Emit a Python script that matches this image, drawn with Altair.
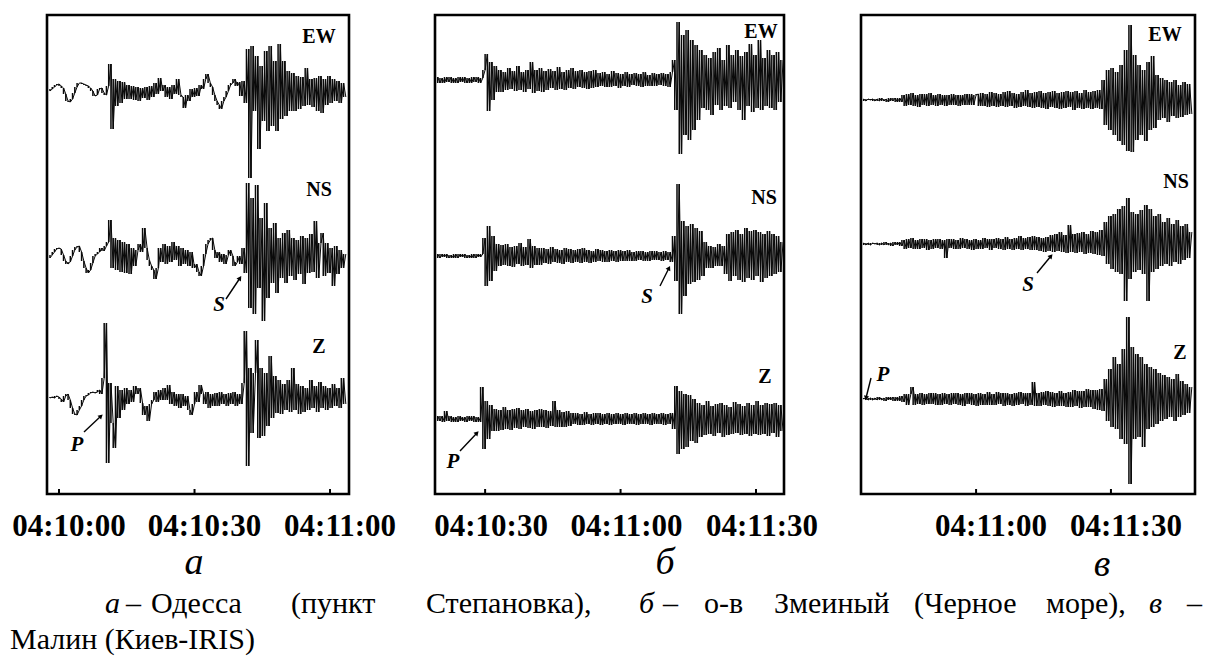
import altair as alt
import pandas as pd

DT = 0.5

# ---------------- panel а : Одесса (seconds after 04:10:00) ----------------
a_ew = [
    (-2.0, [0, 2, 4, 6, 7, 5, 3, -3, -10, -11, -8, -2, 4, 8, 8, 7, 6, 5, 3, 0, -5, -4, 2, 3, -2, -4]),
    (11.0, [5, 27, -38, 12, -15, 10, -12, 9, -8]),
    (15.5, [6, -8, 5, -9, 4, -10, 3, -7, 4, -9, 5, -6, 8, -3, 13, 0, 6, -6, 4, -8, 6, -3, 12, -4, -6,
            -17, -4, -10, 2, -6, 3, -5, 6, 2, 12, 17, 8, 4, -4, -10, -14, -18, -10, -6, 0, 6, 8, 12, 5, 9]),
    (40.5, [-5, 10, -12, 42, -87, 45, -20, 35, -58, 25, -30, 40, -40, 45, -35, 30, -40, 47, -28, 30, -25,
            20, -20, 18, -20, 15, -18, 14, -15, 23, -14, 12, -16, 13, -20, 15, -22, 12, -14, 15, -12, 12,
            -10, 10, -12, 8, -6]),
]
a_ns = [
    (-2.0, [0, 3, 6, 9, 10, 9, 3, -3, -6, -4, 2, 8, 11, 12, 6, -3, -10, -15, -12, -5, 2, 4, 6, 10, 7, 12]),
    (11.0, [16, 38, -10, 20, -12, 18, -14, 16, -15, 14, -16, 10, -8]),
    (17.5, [8, 14, 6, 30, 10, -2, -8, -12, -21, -10]),
    (22.5, [10, -4, 14, -6, 12, -4, 16, -2, 12, -8, 10, -6, 8, -8, 6, -10, -6, -14, -18, -8, 4, 14, 18, 20, 8, 0]),
    (35.5, [6, -4, 4, -6, 3, 8, 2, -8, -4, 2, -6]),
    (41.0, [10, -15, 75, -50, 60, -56, 73, -30, 40, -63, 55, -40, 30, -25, 35, -35, 20, -20, 25, -25,
            28, -18, 20, -22, 18, -16, 22, -26, 20, -15, 24, -14, 37, -20, 15, 25, -18, 15, -15, 10,
            -28, 12, -16, 8, -10, 4]),
]
a_z = [
    (-2.0, [0, 1, 0, 2, 1, -1, -4, 2, 4, -2, -10, -16, -17, -12, -8, -2, 2, 3, 5, 6, 5, 6, 8, 4]),
    (10.0, [20, 75, -65, 15, -25, -50, 12, -20, 8, -12, 10]),
    (15.5, [-6, 8, -4, 12, 4, 10, -5, -17, -8, -23, -6, -2]),
    (21.5, [6, -4, 8, -2, 10, -2, 13, -6, 6, -8, 4, -10, 4, -8, 2, -12, -17, -6, 6, -4, 13, 4]),
    (32.5, [-6, 6, -10, 4, -8, 5, -8, 6, -6, 4, -8, 5, -6, 6, -8, 4]),
    (40.5, [-6, 15, 67, -68, 30, -35, 25, 58, -40, 30, -38, 25, -28, 42, -20, 22, -15, 18]),
    (49.5, [-16, 14, -12, 18, -14, 30, -12, 14, -16, 12, -14, 10, -12, 18, -10, 12, -14, 16, -10, 12,
            -12, 10, -10, 14, -8, 10, -10, 20, -6]),
]

# ---------------- panel б : о-в Змеиный ----------------
b_ew = [
    (19.5, [3, -3, 2, -3, 3, -2, 3, -3, 2, -3, 3, -2, 3, -3, 2, -3, 3, -2, 3, -3, 2]),
    (30.0, [10, 26, -31, 18, -20, 14, -12]),
    (33.5, [10, -12, 8, -10, 12, -9, 9, -11, 14, -10, 8, -12, 10, -9, 18, -13, 10, -11, 12, -12, 9, -10,
            11, -8, 9, -10, 13, -9, 8, -10, 10, -8, 12, -9, 9, -7, 10, -8, 8, -9, 9, -8, 10, -7]),
    (55.5, [7, -6, 8, -7, 6, -7, 9, -6, 7, -8, 6, -6, 8, -7, 6, -5, 7, -6, 6, -7, 8, -6, 5, -6, 7, -6,
            6, -5, 7, -6, 6, -7, 8]),
    (72.0, [20, -30, 58, -74, 45, -55, 50, -60, 40, -50, 35, -40]),
    (78.0, [30, -28, 25, -30, 22, -35, 28, -25, 32, -30, 20, -26, 35, -28, 25, -22, 30, -30, 24, -40,
            28, -26, 36, -32, 25, -28, 40, -30, 22, -26, 30, -28, 25, -30, 28, -22, 20]),
]
b_ns = [
    (19.5, [2, -2, 2, -1, 2, -2, 1, -2, 2, -2, 2, -1, 2, -2, 1, -2, 2, -2, 2, -1, 2]),
    (30.0, [18, -30, 30, -25, 20, -15, 12]),
    (33.5, [-10, 11, -9, 12, -10, 9, -11, 10, -8, 13, -10, 9, -9, 17, -12, 10, -9, 8, -9]),
    (43.0, [8, -7, 7, -8, 9, -6, 7, -7, 6, -8, 8, -6, 7, -7, 6, -6, 7, -7, 8, -6, 6, -7, 5, -6, 7, -5,
            6, -6, 5, -6, 6, -5, 5, -6, 6, -5, 5, -5, 6, -5, 4, -5, 5, -4, 5, -5, 4, -5, 5, -4, 5, -4,
            4, -5, 5, -4, 4]),
    (71.5, [-6, 20, -25, 72, -58, 35, -40, 30, -28, 32, -26, 28, -24, 25, -20]),
    (79.0, [14, -12, 10, -12, 9, -10, 12, -10, 10]),
    (83.5, [-18, 22, -25, 24, -20, 26, -24, 22, -26, 28, -22, 25, -24, 26, -20, 24, -26, 22, -22, 25,
            -20, 22, -18, 20, -16, 14]),
]
b_z = [
    (19.5, [3, -2, 3, -3, 8, -2, 3, -3, 2, -3, 3, -2, 2, -3, 3, -2, 3, -3, 2, -3]),
    (29.5, [32, -30, 18, -20, 14, -12]),
    (32.5, [10, -12, 9, -11, 12, -10, 9, -11, 10, -9, 11, -10, 9, -8, 10, -9, 8, -10, 9, -8, 10, -8,
            9, -9, 8, -7, 18, -8, 9, -8, 7, -8, 8, -7]),
    (49.5, [6, -5, 6, -6, 5, -6, 7, -5, 5, -6, 6, -5, 6, -6, 5, -5, 6, -6, 5, -5, 6, -5, 5, -6, 6, -5,
            5, -5, 6, -6, 5, -5, 6, -5, 5, -6, 6, -5, 5, -5, 6, -6, 5, -5, 6]),
    (72.0, [-10, 33, -35, 28, -30, 25, -28, 24, -22, 20, -24]),
    (77.5, [16, -18, 14, -16, 18, -15, 13, -17, 15, -14, 16, -18, 14, -16, 12, -15, 17, -14, 15, -16,
            13, -15, 16, -17, 14, -15, 18, -16, 14, -15, 16, -17, 15, -14, 16, -18, 14, -12]),
]

# ---------------- panel в : Малин (Киев-IRIS) ----------------
c_ew = [
    (35.0, [1, -1, 1, 0, 1, -1, 1, -1, 2, -1, 1, -2, 2, -1, 2, -2, 2, -2]),
    (44.0, [5, -6, 6, -5, 7, -6, 5, -7, 6, -5, 6, -6, 7, -5, 5, -6, 6, -5, 5, -6, 5, -5, 6, -5, 5, -6,
            5, -5, 6, -5, 6, -5, 5]),
    (60.5, [6, -6, 7, -6, 6, -7, 8, -6, 7, -7, 6, -6, 8, -7, 9, -6, 7, -8, 6, -7, 8, -6, 10, -7, 7, -8,
            8, -7, 9, -8, 7, -9, 8, -7, 9, -8, 7, -9, 8, -8, 9, -7, 8, -10, 9, -8, 7, -9, 10, -8, 8, -9,
            9, -8, 10, -9]),
    (88.5, [20, -25, 30, -30, 32, -35, 28, -41, 35, -45, 50, -51, 75, -52, 45, -40, 35, -35, 30, -41,
            38, -30, 44, -28, 25]),
    (101.0, [-20, 22, -18, 20, -22, 18, -16, 20, -18, 15, -17, 18, -15, 16, -14]),
]
c_ns = [
    (35.0, [1, -1, 1, -1, 1, 0, 1, -1, 1, -1, 2, -1, 1, -2, 2, -1, 2, -2]),
    (44.0, [4, -5, 5, -4, 6, -5, 4, -5, 5, -4, 5, -6, 4, -5, 5, -4, 5, -5, 4, -14, 5, -4, 5, -5, 4, -5,
            6, -4, 5, -5, 4, -6, 5, -5, 4, -5, 6, -4, 5, -6, 5, -4, 6, -5, 5, -6, 7, -5, 5, -6, 6, -5,
            8, -6, 6, -5, 7, -6, 8, -6, 7, -7, 6, -8, 7]),
    (76.5, [-7, 9, -8, 10, -7, 12, -8, 9, -9, 19, -8, 10, -9, 11, -8, 12, -10, 10, -9, 13, -10, 12,
            -11, 14, -12]),
    (89.0, [22, -20, 28, -25, 30, -28, 35, -30, 38, -57, 46, -35, 32, -28, 30, -26, 34, -30, 39, -57,
            35, -28, 28, -25, 30, -22, 22, -20, 26, -22, 20, -18, 24, -20, 18, -16, 20, -14, 12]),
]
c_z = [
    (35.0, [0, 1, -1, 1, -1, 1, -1, 2, -1, 1, -2, 2, -1, 2, -2, 2, -2, 3, -3]),
    (44.5, [5, -6, 5, 12, -6, 5, -5, 6, -6, 5, -5, 6, -5, 6, -6, 5, -6, 6, -5, 5, -6, 6, -5, 6, -6, 5,
            -7, 6, -5, 6, -6, 5, -7, 6, -6, 5, -6, 7, -6, 5, -6, 7, -5, 6, -7, 6, -6, 5, -7, 6, -6, 7,
            -5, 6, -7, 6, -6, 17, -7, 6, -7, 7, -6, 8, -7, 7, -8, 6, -7, 8, -7, 6, -8, 7, -8, 9, -7, 8,
            -9, 8, -8, 10, -8, 9, -10, 9, -11, 10, -12]),
    (89.0, [20, -22, 30, -28, 42, -30, 35, -40, 50, -45, 82, -85, 52, -40, 45, -38, 42, -48, 35, -30,
            32, -28, 30, -25, 26, -22, 24, -20, 22, -18, 20, -22, 25, -18, 18, -16, 15, -14, 12]),
]

channels = ["EW", "NS", "Z"]
a_ticks, a_tick_labels = [0, 30, 60], ["04:10:00", "04:10:30", "04:11:00"]
b_ticks, b_tick_labels = [30, 60, 90], ["04:10:30", "04:11:00", "04:11:30"]
c_ticks, c_tick_labels = [60, 90], ["04:11:00", "04:11:30"]

# ---------------------------------------------------------------------------
SERIF = "Liberation Serif, Times New Roman, Times, Tinos, DejaVu Serif, serif"
H = 479
ONE = pd.DataFrame({"k": [0]})


def trace_frame(traces, levels):
    frames = []
    for ch, segs, lev in zip(channels, traces, levels):
        rows = []
        for t0, vals in segs:
            for i, v in enumerate(vals):
                rows.append({"ch": ch, "t": t0 + i * DT, "level": lev + v})
        d = pd.DataFrame(rows).sort_values("t").reset_index(drop=True)
        nxt = d["level"].shift(-1).fillna(d["level"])
        d["lo"] = pd.concat([d["level"], nxt], axis=1).min(axis=1)
        d["hi"] = pd.concat([d["level"], nxt], axis=1).max(axis=1)
        frames.append(d)
    return pd.concat(frames, ignore_index=True)


def txt(x, y, s, size, weight="normal", style="normal", align="center"):
    return alt.Chart(ONE).mark_text(
        text=s, font=SERIF, fontSize=size, fontWeight=weight, fontStyle=style,
        align=align, baseline="alphabetic", color="black"
    ).encode(x=alt.value(x), y=alt.value(y))


def arrow(x1, y1, x2, y2, ang):
    line = alt.Chart(ONE).mark_rule(color="black", strokeWidth=1.4).encode(
        x=alt.value(x1), y=alt.value(y1), x2=alt.value(x2), y2=alt.value(y2))
    head = alt.Chart(ONE).mark_point(shape="triangle-up", filled=True, size=28, angle=ang,
                                     color="black", opacity=1).encode(x=alt.value(x2), y=alt.value(y2))
    return [line, head]


def panel(traces, levels, domain, width, ticks, tick_labels, label_dx, annotations):
    df = trace_frame(traces, levels)
    xs = alt.Scale(domain=domain, nice=False, zero=False)
    ys = alt.Scale(domain=[0, H], nice=False, zero=False)
    lines = alt.Chart(df).mark_line(color="#0a0a0a", strokeWidth=1.0, clip=True).encode(
        x=alt.X("t:Q", scale=xs, axis=None),
        y=alt.Y("level:Q", scale=ys, axis=None),
        detail="ch:N", order="t:Q")
    fill = alt.Chart(df).mark_rule(color="#0a0a0a", strokeWidth=1.5, clip=True).encode(
        x="t:Q", y="lo:Q", y2="hi:Q")
    tdf = pd.DataFrame({"t": ticks, "label": tick_labels})
    tickm = alt.Chart(tdf).mark_rule(color="black", strokeWidth=2).encode(
        x="t:Q", y=alt.value(H), y2=alt.value(H - 5))
    tickl = alt.Chart(tdf).mark_text(font=SERIF, fontSize=31, fontWeight="bold", baseline="alphabetic",
                                     dx=label_dx, color="black").encode(
        x="t:Q", y=alt.value(521), text="label:N")
    return alt.layer(lines, fill, tickm, tickl, *annotations).properties(width=width, height=H)


CAP = 30
L = 45  # page x of panel а's plot area; caption words are placed relative to it
# panel а
ann_a = [
    txt(272, 28, "EW", 20, "bold"), txt(272, 181, "NS", 20, "bold"), txt(272, 338, "Z", 20, "bold"),
    txt(172, 296, "S", 21, "bold", "italic"), *arrow(179, 284, 193, 263, 34),
    txt(30, 436, "P", 21, "bold", "italic"), *arrow(37, 417, 54, 401, 47),
    txt(147, 559, "а", 38, "normal", "italic"),
    # caption (justified first line)
    txt(103 - L, 598, "а", CAP, "normal", "italic", "left"),
    txt(124 - L, 598, "–", CAP, align="left"),
    txt(149 - L, 598, "Одесса", CAP, align="left"),
    txt(289 - L, 598, "(пункт", CAP, align="left"),
    txt(424 - L, 598, "Степановка),", CAP, align="left"),
    txt(637 - L, 598, "б", CAP, "normal", "italic", "left"),
    txt(661 - L, 598, "–", CAP, align="left"),
    txt(702 - L, 598, "о-в", CAP, align="left"),
    txt(772 - L, 598, "Змеиный", CAP, align="left"),
    txt(912 - L, 598, "(Черное", CAP, align="left"),
    txt(1044 - L, 598, "море),", CAP, align="left"),
    txt(1147 - L, 598, "в", CAP, "normal", "italic", "left"),
    txt(1185 - L, 598, "–", CAP, align="left"),
    txt(8 - L, 634, "Малин (Киев-IRIS)", CAP, align="left"),
]
pa = panel([a_ew, a_ns, a_z], [403, 236, 96], [-2.66, 64.2], 302, a_ticks, a_tick_labels, 10, ann_a)

ann_b = [
    txt(326, 23, "EW", 20, "bold"), txt(329, 189, "NS", 20, "bold"), txt(330, 368, "Z", 20, "bold"),
    txt(212, 288, "S", 21, "bold", "italic"), *arrow(225, 271, 234, 253, 27),
    txt(18, 453, "P", 21, "bold", "italic"), *arrow(25, 436, 42, 418, 43),
    txt(230, 559, "б", 38, "normal", "italic"),
]
pb = panel([b_ew, b_ns, b_z], [414, 238, 75], [18.9, 96.2], 349, b_ticks, b_tick_labels, 6, ann_b)

ann_c = [
    txt(304, 26, "EW", 20, "bold"), txt(315, 173, "NS", 20, "bold"), txt(319, 344, "Z", 20, "bold"),
    txt(167, 276, "S", 21, "bold", "italic"), *arrow(176, 258, 190, 241, 40),
    txt(22, 366, "P", 21, "bold", "italic"), *arrow(10, 363, 5, 383, 194),
    txt(241, 561, "в", 38, "normal", "italic"),
]
pc = panel([c_ew, c_ns, c_z], [394, 250, 95], [34.4, 108.7], 334, c_ticks, c_tick_labels, 15, ann_c)

chart = alt.hconcat(
    pa,
    alt.hconcat(pb, pc, spacing=77, bounds="flush"),
    spacing=86, bounds="flush",
).properties(
    padding={"left": 0, "top": 5, "right": 0, "bottom": 0}
).configure_view(stroke="black", strokeWidth=2.6)

chart.save("out.html", embed_options={"renderer": "svg", "actions": False})
